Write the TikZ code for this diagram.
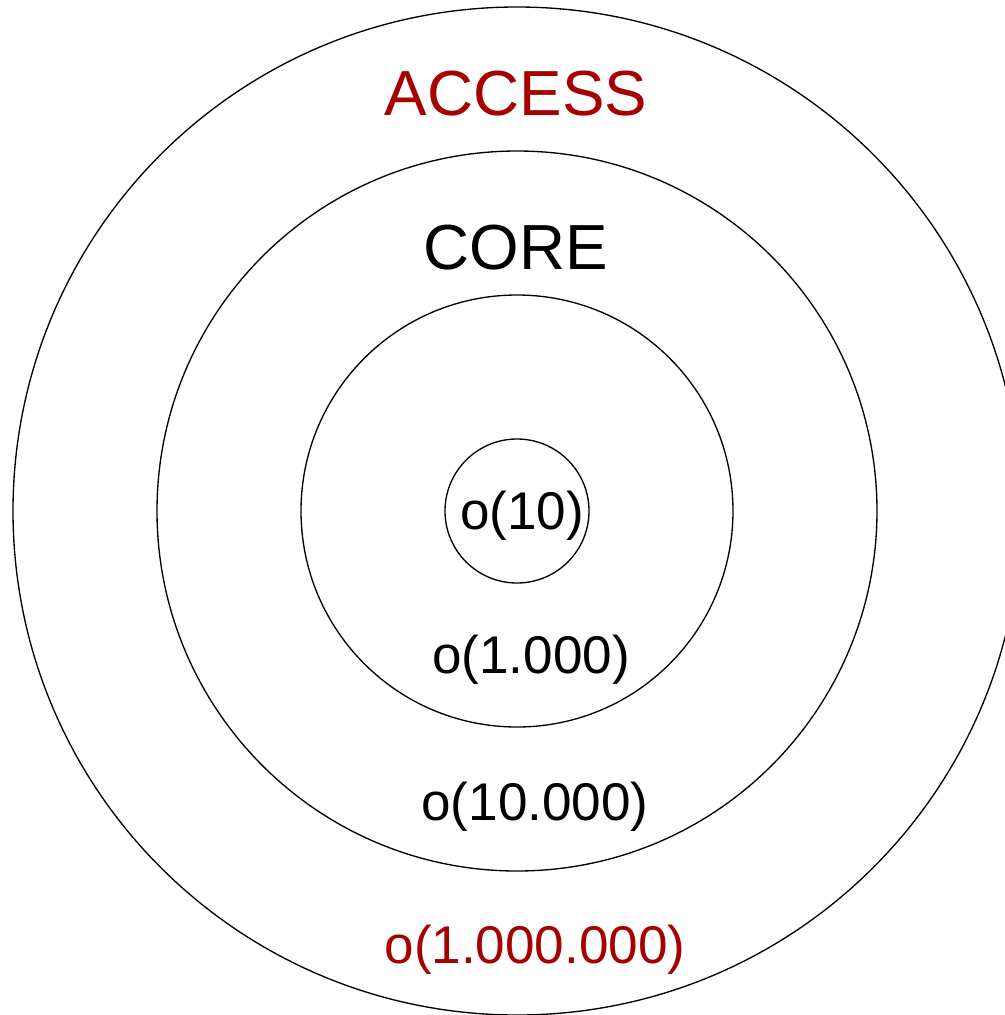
\documentclass[tikz,border=0pt]{standalone}
\usepackage{fontspec}
\setmainfont{Liberation Sans}
\definecolor{accred}{RGB}{166,0,0}
\begin{document}
\begin{tikzpicture}[x=0.75pt,y=-0.75pt,
  ring/.style={circle,draw=black,line width=1pt,inner sep=0pt,minimum size=#1},
  bigtxt/.style={anchor=base,inner sep=0pt,font=\fontsize{47.8pt}{57pt}\selectfont},
  smalltxt/.style={anchor=base,inner sep=0pt,font=\fontsize{39.8pt}{47pt}\selectfont}]
\useasboundingbox (0,0) rectangle (1005,1015);
\clip (0,0) rectangle (1005,1015);
\coordinate (c) at (517,511);
\node[ring=1008*0.75pt] (outer) at (c) {};
\node[ring=720*0.75pt] (core) at (c) {};
\node[ring=432*0.75pt] (mid) at (c) {};
\node[ring=144*0.75pt] (inner) at (c) {};
\node[bigtxt,text=accred] (access) at (516,115) {ACCESS};
\node[bigtxt] (coretxt) at (516,269) {CORE};
\node[smalltxt] (o10) at (522,529) {o(10)};
\node[smalltxt] (o1000) at (531,673) {o(1.000)};
\node[smalltxt] (o10000) at (535,820) {o(10.000)};
\node[smalltxt,text=accred] (o1m) at (535,963) {o(1.000.000)};
\end{tikzpicture}
\end{document}
